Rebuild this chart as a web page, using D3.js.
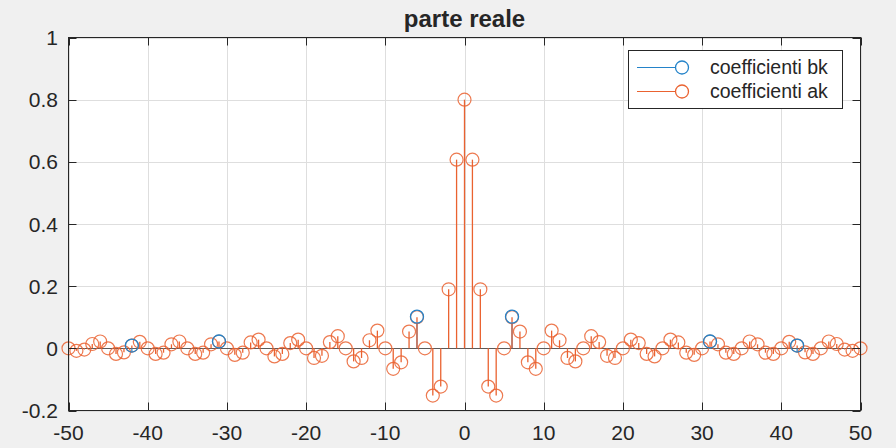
<!DOCTYPE html>
<html>
<head>
<meta charset="utf-8">
<script src="https://cdn.jsdelivr.net/npm/d3@7"></script>
<style>
  html, body { margin: 0; padding: 0; background: #f0f0f0; }
  svg { display: block; }
  text { font-family: "Liberation Sans", Arial, Helvetica, sans-serif; fill: #262626; }
</style>
</head>
<body>
<svg id="chart" width="896" height="448"></svg>
<script>
// Harmonic index k = -50 ... 50
const k = d3.range(-50, 51);

// Real part of the coefficients ak, one value per k (from -50 to 50)
const akValues = [
  0, -0.008, -0.004, 0.014, 0.022, 0, -0.018, -0.013, 0.009, 0.021,
  0, -0.018, -0.014, 0.013, 0.022, 0, -0.018, -0.014, 0.013, 0.022,
  0, -0.021, -0.014, 0.019, 0.028, 0, -0.026, -0.018, 0.017, 0.028,
  0, -0.031, -0.024, 0.020, 0.039, 0, -0.042, -0.031, 0.026, 0.057,
  0, -0.066, -0.045, 0.054, 0.100, 0, -0.152, -0.123, 0.190, 0.607,
  0.800,
  0.607, 0.190, -0.123, -0.152, 0, 0.100, 0.054, -0.045, -0.066, 0,
  0.057, 0.026, -0.031, -0.042, 0, 0.039, 0.020, -0.024, -0.031, 0,
  0.028, 0.017, -0.018, -0.026, 0, 0.028, 0.019, -0.014, -0.021, 0,
  0.022, 0.013, -0.014, -0.018, 0, 0.022, 0.013, -0.014, -0.018, 0,
  0.021, 0.009, -0.013, -0.018, 0, 0.022, 0.014, -0.004, -0.008, 0
];

// Coefficients bk (real part) at the harmonics where they are plotted
const bkIndex  = [-42, -31, -6, 6, 31, 42];
const bkValues = [0.009, 0.022, 0.102, 0.102, 0.022, 0.009];

const xTicks = [-50, -40, -30, -20, -10, 0, 10, 20, 30, 40, 50];
const yTicks = [-0.2, 0, 0.2, 0.4, 0.6, 0.8, 1];

const seriesNames = ["coefficienti bk", "coefficienti ak"];
const colors = { bk: "#2483c9", ak: "#ea6230" };

const ak = k.map((kk, i) => ({ k: kk, v: akValues[i] }));
const bk = bkIndex.map((kk, i) => ({ k: kk, v: bkValues[i] }));

const svg = d3.select("#chart");
const plotL = 68.5, plotR = 860.5, plotT = 37.5, plotB = 410.5;

const x = d3.scaleLinear().domain([-50, 50]).range([plotL, plotR]);
const y = d3.scaleLinear().domain([-0.2, 1]).range([plotB, plotT]);

// Plot background
svg.append("rect")
  .attr("x", plotL).attr("y", plotT)
  .attr("width", plotR - plotL).attr("height", plotB - plotT)
  .attr("fill", "#ffffff");

// Grid
const grid = svg.append("g").attr("stroke", "#dedede").attr("stroke-width", 1);
grid.selectAll(".gx").data(xTicks).join("line")
  .attr("x1", d => Math.round(x(d)) + 0.5).attr("x2", d => Math.round(x(d)) + 0.5)
  .attr("y1", plotT).attr("y2", plotB);
grid.selectAll(".gy").data(yTicks).join("line")
  .attr("y1", d => Math.round(y(d)) + 0.5).attr("y2", d => Math.round(y(d)) + 0.5)
  .attr("x1", plotL).attr("x2", plotR);

// Stem baseline
svg.append("line")
  .attr("x1", plotL).attr("x2", plotR)
  .attr("y1", Math.round(y(0)) + 0.5).attr("y2", Math.round(y(0)) + 0.5)
  .attr("stroke", "#5a5a5a").attr("stroke-width", 1.2);

const R = 6.5;

// bk stems
svg.append("g").selectAll("line").data(bk).join("line")
  .attr("x1", d => x(d.k)).attr("x2", d => x(d.k))
  .attr("y1", y(0)).attr("y2", d => y(d.v) + R)
  .attr("stroke", colors.bk).attr("stroke-width", 1.2);

// ak stems and markers
svg.append("g").selectAll("line").data(ak.filter(d => d.v !== 0)).join("line")
  .attr("x1", d => x(d.k)).attr("x2", d => x(d.k))
  .attr("y1", y(0)).attr("y2", d => y(d.v))
  .attr("stroke", colors.ak).attr("stroke-width", 1.3);
svg.append("g").selectAll("circle").data(ak).join("circle")
  .attr("cx", d => x(d.k)).attr("cy", d => y(d.v)).attr("r", R)
  .attr("fill", "none").attr("stroke", colors.ak).attr("stroke-width", 1.2)
  .attr("stroke-opacity", 0.85);

// bk markers
svg.append("g").selectAll("circle").data(bk).join("circle")
  .attr("cx", d => x(d.k)).attr("cy", d => y(d.v)).attr("r", R)
  .attr("fill", "none").attr("stroke", colors.bk).attr("stroke-width", 1.3);

// Axes box with inward ticks on all sides
const axisColor = "#262626";
const tickLen = 8;
svg.append("rect")
  .attr("x", plotL).attr("y", plotT)
  .attr("width", plotR - plotL).attr("height", plotB - plotT)
  .attr("fill", "none").attr("stroke", axisColor).attr("stroke-width", 1);

const ticks = svg.append("g").attr("stroke", axisColor).attr("stroke-width", 1);
xTicks.forEach(t => {
  const px = Math.round(x(t)) + 0.5;
  ticks.append("line").attr("x1", px).attr("x2", px).attr("y1", plotB).attr("y2", plotB - tickLen);
  ticks.append("line").attr("x1", px).attr("x2", px).attr("y1", plotT).attr("y2", plotT + tickLen);
});
yTicks.forEach(t => {
  const py = Math.round(y(t)) + 0.5;
  ticks.append("line").attr("x1", plotL).attr("x2", plotL + tickLen).attr("y1", py).attr("y2", py);
  ticks.append("line").attr("x1", plotR).attr("x2", plotR - tickLen).attr("y1", py).attr("y2", py);
});

// Tick labels
svg.append("g").selectAll("text").data(xTicks).join("text")
  .attr("x", d => x(d)).attr("y", 440)
  .attr("text-anchor", "middle").attr("font-size", 21)
  .text(d => String(d));
svg.append("g").selectAll("text").data(yTicks).join("text")
  .attr("x", 58).attr("y", d => y(d) + 7.5)
  .attr("text-anchor", "end").attr("font-size", 21)
  .text(d => String(d));

// Title
svg.append("text")
  .attr("x", (plotL + plotR) / 2).attr("y", 27)
  .attr("text-anchor", "middle").attr("font-size", 24).attr("font-weight", "bold")
  .attr("fill", "#000")
  .text("parte reale");

// Legend
const lg = svg.append("g");
lg.append("rect")
  .attr("x", 628.5).attr("y", 50.5).attr("width", 214).attr("height", 58)
  .attr("fill", "#ffffff").attr("stroke", axisColor).attr("stroke-width", 1);
const legendRows = [
  { name: seriesNames[0], color: colors.bk, cy: 67.5 },
  { name: seriesNames[1], color: colors.ak, cy: 91.5 }
];
legendRows.forEach(r => {
  lg.append("line").attr("x1", 637).attr("x2", 682).attr("y1", r.cy).attr("y2", r.cy)
    .attr("stroke", r.color).attr("stroke-width", 1.2);
  lg.append("circle").attr("cx", 682).attr("cy", r.cy).attr("r", R)
    .attr("fill", "#ffffff").attr("stroke", r.color).attr("stroke-width", 1.3);
  lg.append("text").attr("x", 710).attr("y", r.cy + 6.5)
    .attr("font-size", 19.5).attr("fill", "#000").text(r.name);
});
</script>
</body>
</html>
